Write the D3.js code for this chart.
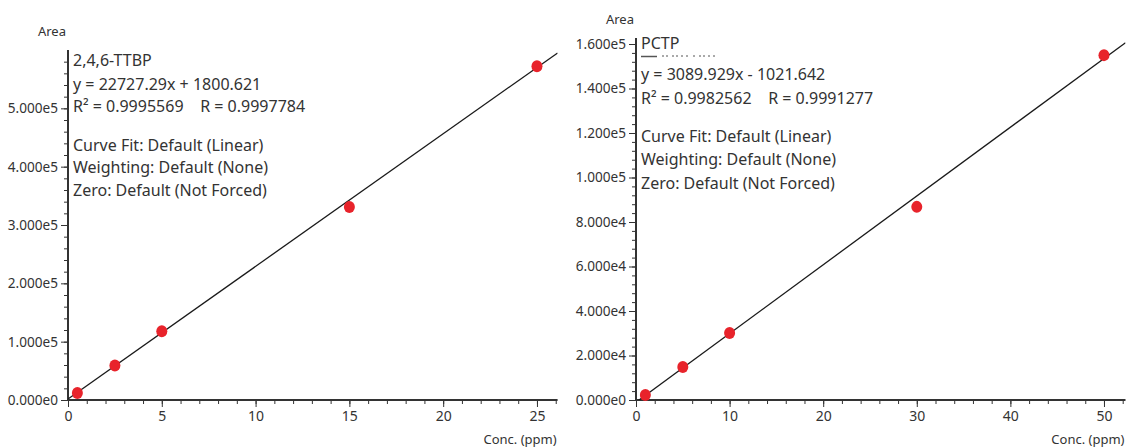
<html>
<head>
<meta charset="utf-8">
<script src="https://cdn.jsdelivr.net/npm/d3@7"></script>
<style>
  body { margin: 0; background: #fff; }
  text { font-family: "Noto Sans", sans-serif; fill: #333; white-space: pre; }
</style>
</head>
<body>
<script>
// data
var ttbpConc = [0.5, 2.5, 5, 15, 25];
var ttbpArea = [12000, 59000, 118000, 331000, 572000];
var ttbpFit = [22727.29, 1800.621];   // slope, intercept
var ttbpText = ["2,4,6-TTBP", "y = 22727.29x + 1800.621", "R\u00b2 = 0.9995569    R = 0.9997784",
  "Curve Fit: Default (Linear)", "Weighting: Default (None)", "Zero: Default (Not Forced)"];
var ttbpXTicks = [0, 5, 10, 15, 20, 25];
var ttbpYTicks = [0, 100000, 200000, 300000, 400000, 500000];

var pctpConc = [1, 5, 10, 30, 50];
var pctpArea = [2300, 14800, 30100, 86800, 155000];
var pctpFit = [3089.929, -1021.642];
var pctpText = ["PCTP", "y = 3089.929x - 1021.642", "R\u00b2 = 0.9982562    R = 0.9991277",
  "Curve Fit: Default (Linear)", "Weighting: Default (None)", "Zero: Default (Not Forced)"];
var pctpXTicks = [0, 10, 20, 30, 40, 50];
var pctpYTicks = [0, 20000, 40000, 60000, 80000, 100000, 120000, 140000, 160000];

var W = 1126, H = 448;
var svg = d3.select("body").append("svg").attr("width", W).attr("height", H);

function fmtE(v) { return v.toExponential(3).replace("+", ""); }

function panel(o) {
  var g = svg.append("g");
  var x = d3.scaleLinear().domain(o.xDom).range(o.xRange);
  var y = d3.scaleLinear().domain(o.yDom).range([400, o.yTop]);
  var clipId = "clip" + o.id;
  svg.append("clipPath").attr("id", clipId).append("rect")
    .attr("x", o.xRange[0]).attr("y", o.yTop - 20)
    .attr("width", o.xRange[1] - o.xRange[0]).attr("height", 400 - o.yTop + 20);

  // minor ticks
  g.append("g").attr("transform", "translate(0,400)")
    .call(d3.axisBottom(x).tickValues(d3.range(0, o.xDom[1], o.xMinor)).tickSize(4).tickFormat(""))
    .call(function(a){ a.select(".domain").remove(); a.selectAll("line").attr("stroke", "#333"); });
  g.append("g").attr("transform", "translate(" + o.xRange[0] + ",0)")
    .call(d3.axisLeft(y).tickValues(d3.range(0, o.yDom[1], o.yMinor)).tickSize(4).tickFormat(""))
    .call(function(a){ a.select(".domain").remove(); a.selectAll("line").attr("stroke", "#333"); });

  // major ticks + labels
  var xa = g.append("g").attr("transform", "translate(0,400)")
    .call(d3.axisBottom(x).tickValues(o.xTicks).tickSize(7).tickPadding(4).tickFormat(d3.format("d")));
  xa.select(".domain").remove();
  xa.selectAll("line").attr("stroke", "#333");
  xa.selectAll("text").style("font-size", "14px").attr("fill", "#333");
  var ya = g.append("g").attr("transform", "translate(" + o.xRange[0] + ",0)")
    .call(d3.axisLeft(y).tickValues(o.yTicks).tickSize(7).tickPadding(3).tickFormat(fmtE));
  ya.select(".domain").remove();
  ya.selectAll("line").attr("stroke", "#333");
  ya.selectAll("text").style("font-size", "13.6px").attr("fill", "#333");

  // axis lines
  g.append("line").attr("x1", o.xRange[0]).attr("x2", o.xRange[1]).attr("y1", 400).attr("y2", 400)
    .attr("stroke", "#333").attr("stroke-width", 2);
  g.append("line").attr("x1", o.xRange[0]).attr("x2", o.xRange[0]).attr("y1", o.yTop).attr("y2", 401)
    .attr("stroke", "#333").attr("stroke-width", 2);

  g.append("text").attr("x", o.xRange[0] - 2).attr("y", o.yTop - 14).attr("text-anchor", "end")
    .style("font-size", "13px").text("Area");
  g.append("text").attr("x", o.xRange[1] - 1).attr("y", 444).attr("text-anchor", "end")
    .style("font-size", "13px").text("Conc. (ppm)");

  // fit line
  var xs = [0, o.xDom[1]];
  g.append("path").attr("clip-path", "url(#" + clipId + ")")
    .attr("d", d3.line().x(function(d){ return x(d); }).y(function(d){ return y(o.fit[0] * d + o.fit[1]); })(xs))
    .attr("stroke", "#1a1a1a").attr("stroke-width", 1.3).attr("fill", "none");

  // points
  g.selectAll("ellipse.pt").data(o.conc).enter().append("ellipse")
    .attr("cx", function(d){ return x(d); })
    .attr("cy", function(d, i){ return y(o.area[i]); })
    .attr("rx", 5.5).attr("ry", 6)
    .attr("fill", "#e8232b");

  // annotation
  var ann = g.append("g");
  o.text.forEach(function(t, i) {
    ann.append("text").attr("x", o.xRange[0] + 5).attr("y", o.textY[i])
      .style("font-size", "16px").text(t);
  });
  return {x: x, y: y, g: g};
}

panel({id: 1, xDom: [0, 26.1], xRange: [68, 557.6], yDom: [0, 600000], yTop: 50,
  xTicks: ttbpXTicks, yTicks: ttbpYTicks, xMinor: 1, yMinor: 20000,
  conc: ttbpConc, area: ttbpArea, fit: ttbpFit, text: ttbpText,
  textY: [66, 90, 112, 151, 173, 196]});

var p2 = panel({id: 2, xDom: [0, 52.3], xRange: [636, 1125.5], yDom: [0, 162700], yTop: 38,
  xTicks: pctpXTicks, yTicks: pctpYTicks, xMinor: 2, yMinor: 4000,
  conc: pctpConc, area: pctpArea, fit: pctpFit, text: pctpText,
  textY: [49, 80, 104, 142, 165, 189]});

// the partly hidden line under "PCTP": only its bottom strokes show
var hid = p2.g.append("g").attr("stroke", "#555").attr("stroke-width", 1);
hid.append("line").attr("x1", 641).attr("x2", 657).attr("y1", 56.5).attr("y2", 56.5).attr("stroke-width", 1.5);
[662, 666, 672, 676, 681, 686, 693, 699, 703, 708, 713].forEach(function(px) {
  hid.append("line").attr("x1", px).attr("x2", px + 2).attr("y1", 56).attr("y2", 56);
});
</script>
</body>
</html>
